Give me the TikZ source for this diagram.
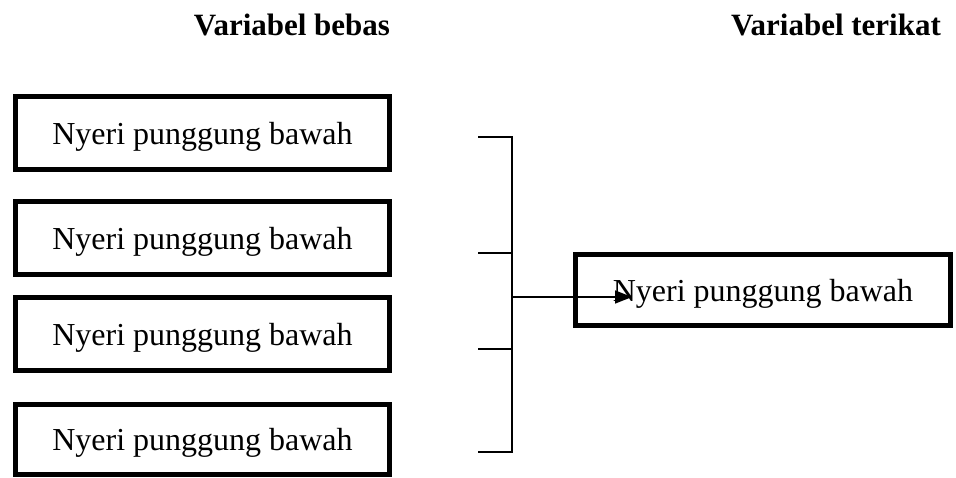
\documentclass[tikz,border=0pt]{standalone}
\usepackage{fontspec}
\setmainfont{Liberation Serif}
\usetikzlibrary{arrows.meta}
\begin{document}
\begin{tikzpicture}[x=1pt,y=-1pt,
  varbox/.style={draw=black,line width=5pt,inner sep=0pt,
    minimum width=374pt,minimum height=73pt,
    text height=22pt,text depth=0pt,
    font=\fontsize{32}{38}\selectfont},
  header/.style={anchor=base,font=\fontsize{31}{37}\selectfont\bfseries},
  link/.style={draw=black,line width=1.5pt},
  arrowlink/.style={link,-{Triangle[length=17pt,width=13pt]}}]
  \useasboundingbox (0,0) rectangle (956,477);

  % column headings
  \node[header] (hbebas) at (292,35) {Variabel bebas};
  \node[header] (hterikat) at (836,35) {Variabel terikat};

  % independent variables
  \node[varbox] (b1) at (202.5,133) {Nyeri punggung bawah};
  \node[varbox] (b2) at (202.5,238) {Nyeri punggung bawah};
  \node[varbox] (b3) at (202.5,334) {Nyeri punggung bawah};
  \node[varbox,minimum height=70pt] (b4) at (202.5,439.5) {Nyeri punggung bawah};

  % dependent variable
  \node[varbox,minimum width=375pt,minimum height=71pt] (t) at (763,290) {Nyeri punggung bawah};

  % bracket joining the independent variables
  \coordinate (s1) at (478,137);
  \coordinate (s2) at (478,253);
  \coordinate (s3) at (478,349);
  \coordinate (s4) at (478,452);
  \coordinate (k1) at (512,137);
  \coordinate (k2) at (512,253);
  \coordinate (k3) at (512,349);
  \coordinate (k4) at (512,452);
  \coordinate (mid) at (512,297);
  \coordinate (tip) at (632,297);

  \draw[link] (s1) -- (k1) -- (k4) -- (s4);
  \draw[link] (s2) -- (k2);
  \draw[link] (s3) -- (k3);
  \draw[arrowlink] (mid) -- (tip);
\end{tikzpicture}
\end{document}
